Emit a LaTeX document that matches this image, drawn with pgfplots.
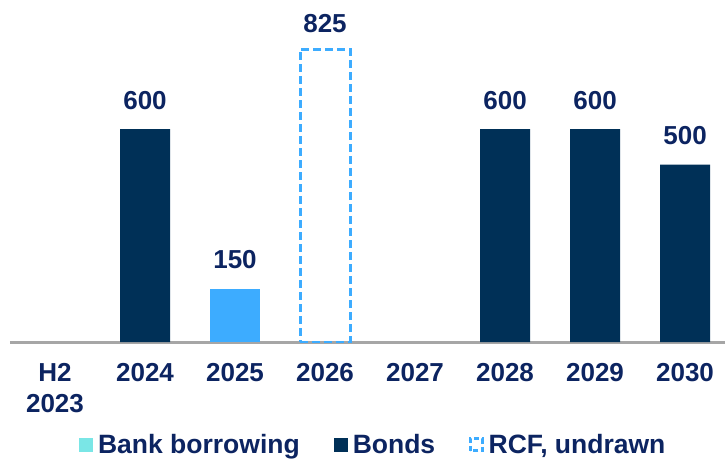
\documentclass[border=0pt]{standalone}
\usepackage{fontspec}
\setmainfont{Liberation Sans}
\usepackage{pgfplots}
\pgfplotsset{compat=1.18}
\definecolor{bonds}{HTML}{003057}
\definecolor{bank}{HTML}{3DACFF}
\definecolor{banklg}{HTML}{7AE6E6}
\definecolor{rcf}{HTML}{3DACFF}
\definecolor{txt}{HTML}{0C2461}
\definecolor{axgray}{HTML}{A6A6A6}
\begin{document}
\begin{tikzpicture}
\begin{axis}[
 at={(10pt,116pt)},anchor=south west,
 scale only axis,width=715pt,height=319.5pt,
 xmin=-0.5,xmax=7.444,ymin=0,ymax=900,
 ybar,bar width=50pt,bar shift=0pt,
 axis x line*=bottom,axis y line=none,
 x axis line style={axgray,line width=3pt,-},
 xtick={0,...,7},
 xticklabels={{H2\\2023},2024,2025,2026,2027,2028,2029,2030},
 xticklabel style={align=center,font=\fontsize{26}{31}\selectfont\bfseries,text=txt,yshift=-18pt},
 major tick length=0pt,
 /pgf/number format/assume math mode=true,
 nodes near coords,
 nodes near coords style={font=\fontsize{26}{31}\selectfont\bfseries,text=txt,yshift=16pt},
 legend columns=-1,
 legend style={draw=none,at={(axis description cs:0.508,-0.321)},anchor=center,
   font=\fontsize{26.5}{31}\selectfont\bfseries,text=txt,
   /tikz/every odd column/.append style={column sep=3pt},
   /tikz/every even column/.append style={column sep=32pt}},
]
\addplot[fill=bank,draw=none,
  legend image code/.code={\fill[banklg] (0pt,-7pt) rectangle (14pt,7pt);}]
  coordinates {(2,150)};
\addlegendentry{Bank borrowing}
\addplot[fill=bonds,draw=none,
  legend image code/.code={\fill[bonds] (0pt,-7pt) rectangle (14pt,7pt);}]
  coordinates {(1,600) (5,600) (6,600) (7,500)};
\addlegendentry{Bonds}
\addplot[fill=none,draw=rcf,line width=3pt,dash pattern=on 8pt off 4pt,
  every node near coord/.append style={yshift=-4pt},
  legend image code/.code={\draw[rcf,line width=2.5pt,dash pattern=on 5pt off 3pt] (1pt,-6pt) rectangle (13pt,6pt);}]
  coordinates {(3,825)};
\addlegendentry{RCF, undrawn}
\end{axis}
\pgfresetboundingbox
\path (0,0) rectangle (725pt,458pt);
\end{tikzpicture}
\end{document}
